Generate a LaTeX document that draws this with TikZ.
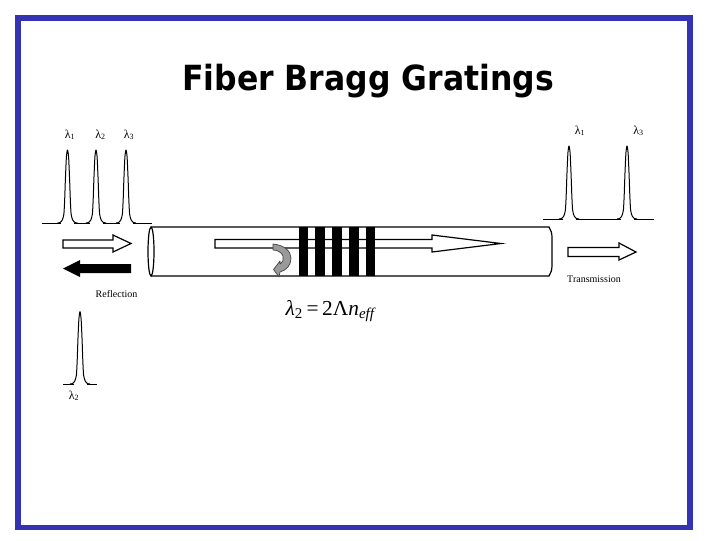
\documentclass[tikz,border=0pt]{standalone}
\usepackage{fontspec}
\setmainfont{Liberation Serif}
\newfontfamily\titlefont[FakeStretch=0.908]{DejaVu Sans}
\definecolor{framecol}{HTML}{3333B3}
\definecolor{turncol}{HTML}{9A9A9A}
\tikzset{
  peakline/.pic={\fill[white] (-6.5,-1.2) rectangle (6.5,1.2);
    \draw[line width=0.75pt,line join=round] plot[smooth,tension=0.4] coordinates {(-10,0)(-7.5,-0.5)(-5.2,-3)(-3.6,-9)(-2.8,-24)(-2.1,-44)(-1.1,-66)(0,-73)(1.1,-66)(2.1,-44)(2.8,-24)(3.6,-9)(5.2,-3)(7.5,-0.5)(10,0)};},
  baseline/.style={line width=0.75pt},
  hollow/.style={draw=black,fill=white,line width=0.9pt,line join=miter},
  fiberline/.style={draw=black,line width=0.9pt},
  wavelabel/.style={font=\fontsize{9}{10}\selectfont,inner sep=0pt},
  caption/.style={font=\fontsize{7.5}{9}\selectfont,inner sep=0pt},
  barstyle/.style={fill=black,draw=none}
}
\begin{document}
\begin{tikzpicture}[x=0.75pt,y=-0.75pt]
\useasboundingbox (0,0) rectangle (720,540);
\fill[white] (0,0) rectangle (720,540);
\draw[framecol,line width=4.1pt] (18,18) rectangle (690,527.5);
\node[font=\titlefont\bfseries\fontsize{26}{28}\selectfont,inner sep=0pt] (title) at (368,81) {Fiber Bragg Gratings};
% input spectrum
\draw[baseline] (42,223) -- (152,223);
\pic at (67.5,223) {peakline};
\pic at (96,223) {peakline};
\pic at (126,223) {peakline};
\node[wavelabel] (l1) at (70,135) {λ\textsubscript{1}};
\node[wavelabel] (l2) at (100.5,135) {λ\textsubscript{2}};
\node[wavelabel] (l3) at (129,135) {λ\textsubscript{3}};
% transmitted spectrum
\draw[baseline] (543,219) -- (654,219);
\pic at (569,219) {peakline};
\pic at (627,219) {peakline};
\node[wavelabel] (t1) at (580,131) {λ\textsubscript{1}};
\node[wavelabel] (t3) at (638.5,131) {λ\textsubscript{3}};
% reflected spectrum
\draw[baseline] (63,384) -- (97,384);
\pic[yscale=0.99] at (80,384) {peakline};
\node[wavelabel] (r2) at (74,396) {λ\textsubscript{2}};
% arrows outside the fibre
\draw[hollow] (63,240) -- (113,240) -- (113,235) -- (131,243.5) -- (113,252) -- (113,248) -- (63,248) -- cycle;
\fill[black] (131,264) -- (80,264) -- (80,260) -- (63,268.5) -- (80,277) -- (80,273) -- (131,273) -- cycle;
\draw[hollow] (568,247.5) -- (619,247.5) -- (619,243) -- (636,252) -- (619,260) -- (619,256.5) -- (568,256.5) -- cycle;
% fibre
\draw[fiberline] (151,227) -- (549,227) .. controls (551,230) and (552,233) .. (552,238) -- (552,265) .. controls (552,270) and (551,273) .. (549,276) -- (151,276);
\draw[fiberline,fill=white] (151,251.5) ellipse (3 and 24.5);
% inner arrow
\draw[hollow] (215,239.5) -- (432,239.5) -- (432,235) -- (501,243.5) -- (432,252) -- (432,248) -- (215,248) -- cycle;
% grating
\foreach \xa/\xb in {299/308,315/325,332/342,349/359,366/375}
  \fill[barstyle] (\xa,227) rectangle (\xb,276);
% turning arrow
\draw[fill=turncol,draw=black!75,line width=0.5pt,line join=round]
  (273,244) .. controls (284,245) and (291,251) .. (291,258)
  .. controls (291,265) and (287,270) .. (280,272)
  -- (279,277) -- (273.5,269.5) -- (280,261)
  -- (280,264) .. controls (283,262) and (284,259) .. (283,256)
  .. controls (282,253) and (278,250) .. (273,250) -- cycle;
% labels
\node[caption] (refl) at (116.5,294) {Reflection};
\node[caption] (trans) at (594,279) {Transmission};
\node[inner sep=0pt,font=\fontsize{16}{18}\selectfont] (eq) at (331,311) {\textit{λ}\textsubscript{2}\,=\,2Λ\textit{n}\textsubscript{\textit{eff}}};
\end{tikzpicture}
\end{document}
